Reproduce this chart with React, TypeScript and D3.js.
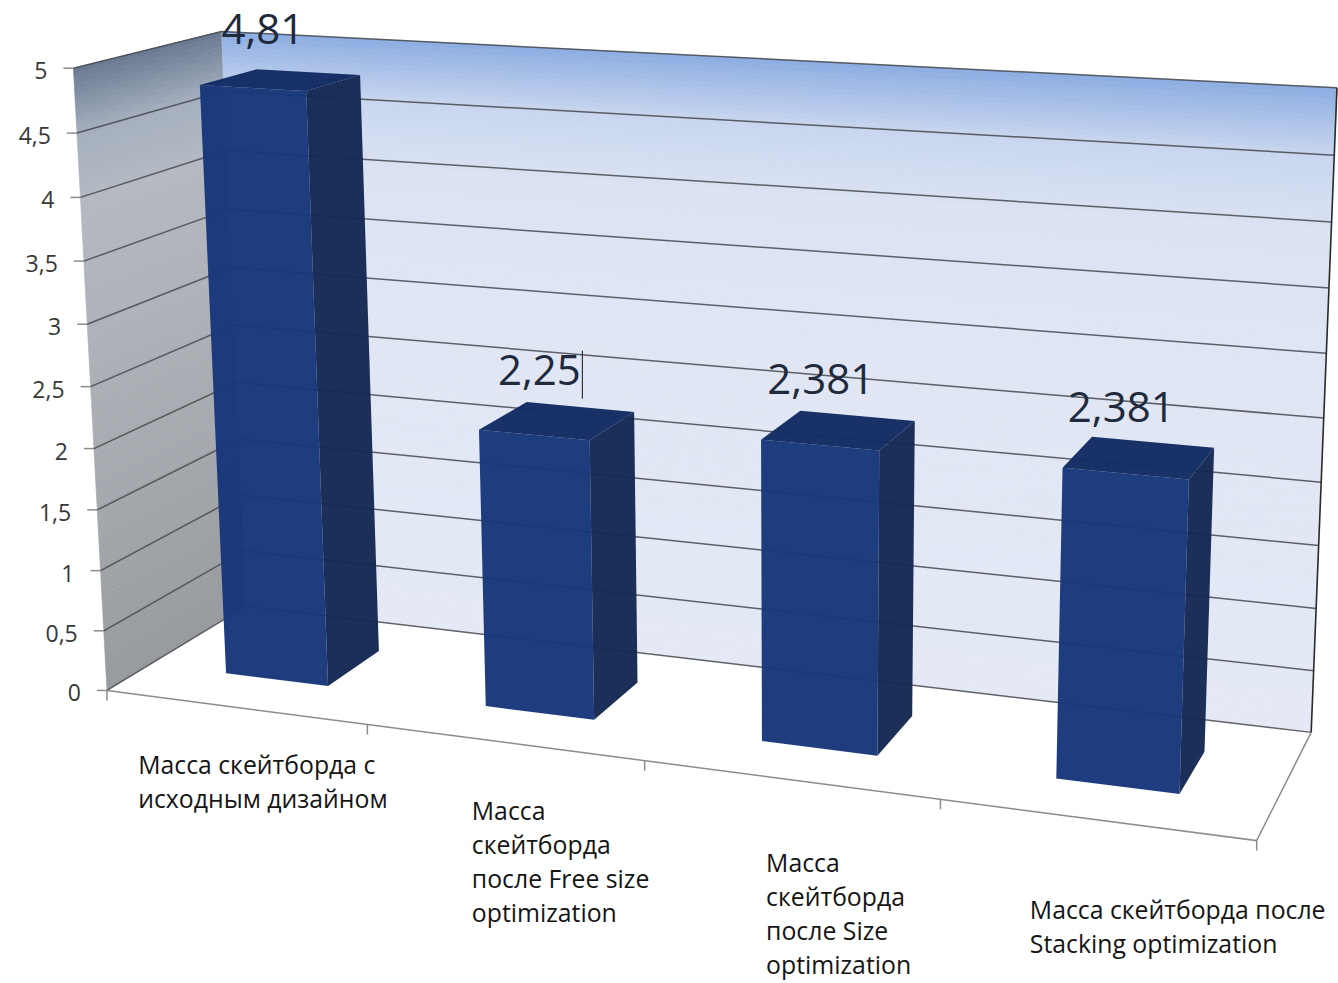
import React from 'react';
import * as d3 from 'd3';

// ---------------- data ----------------
const categoryLines: string[][] = [
  ['Масса скейтборда с', 'исходным дизайном'],
  ['Масса', 'скейтборда', 'после Free size', 'optimization'],
  ['Масса', 'скейтборда', 'после Size', 'optimization'],
  ['Масса скейтборда после', 'Stacking optimization'],
];
const values: number[] = [4.81, 2.25, 2.381, 2.381];
const yTicks: number[] = [0, 0.5, 1, 1.5, 2, 2.5, 3, 3.5, 4, 4.5, 5];
const yTickLabels: string[] = ['0', '0,5', '1', '1,5', '2', '2,5', '3', '3,5', '4', '4,5', '5'];

// ---------------- layout (camera calibration of the 3D box) ----------------
// [X (0..1 across), Y (0..1 value), Z (0 front .. 1 back), screen u, screen v]
const calib: number[][] = [
  [0, 0, 0, 108, 689], [0, 1, 0, 75, 67], [0, 1, 1, 222, 31],
  [1, 0, 1, 1311, 733], [1, 1, 1, 1337, 87], [1, 0, 0, 1257, 840],
  [0.25, 0, 0, 367, 723], [0.5, 0, 0, 646, 762], [0.75, 0, 0, 940, 799],
  [0, 0.9, 0, 78, 133], [0, 0.8, 0, 80, 198], [0, 0.7, 0, 83, 262], [0, 0.6, 0, 86, 325],
  [0, 0.5, 0, 90, 387], [0, 0.4, 0, 93, 448], [0, 0.3, 0, 97, 512], [0, 0.2, 0, 100, 571],
  [0, 0.1, 0, 104, 630],
  [1, 0.9, 1, 1334, 155], [1, 0.8, 1, 1331, 222], [1, 0.7, 1, 1329, 288], [1, 0.6, 1, 1326, 353],
  [1, 0.5, 1, 1324, 418], [1, 0.4, 1, 1321, 483], [1, 0.3, 1, 1319, 547], [1, 0.2, 1, 1316, 608],
  [1, 0.1, 1, 1314, 670],
];
const barDepth: [number, number] = [0.3, 0.7];
const labelOffsets: number[][] = [[-97, 67], [-32, 78], [-24, 92], [-66, 99]];

function fitProjection(pts: number[][]): number[] {
  const n = 11;
  const M: number[][] = Array.from({ length: n }, () => new Array(n).fill(0));
  const r: number[] = new Array(n).fill(0);
  const add = (row: number[], b: number) => {
    for (let i = 0; i < n; i++) {
      r[i] += row[i] * b;
      for (let j = 0; j < n; j++) M[i][j] += row[i] * row[j];
    }
  };
  for (const [X, Y, Z, u0, v0] of pts) {
    const u = u0 / 1000, v = v0 / 1000;
    add([X, Y, Z, 1, 0, 0, 0, 0, -u * X, -u * Y, -u * Z], u);
    add([0, 0, 0, 0, X, Y, Z, 1, -v * X, -v * Y, -v * Z], v);
  }
  for (let c = 0; c < n; c++) {
    let p = c;
    for (let i = c + 1; i < n; i++) if (Math.abs(M[i][c]) > Math.abs(M[p][c])) p = i;
    [M[c], M[p]] = [M[p], M[c]];
    [r[c], r[p]] = [r[p], r[c]];
    for (let i = c + 1; i < n; i++) {
      const f = M[i][c] / M[c][c];
      for (let j = c; j < n; j++) M[i][j] -= f * M[c][j];
      r[i] -= f * r[c];
    }
  }
  const x = new Array(n).fill(0);
  for (let i = n - 1; i >= 0; i--) {
    let s = r[i];
    for (let j = i + 1; j < n; j++) s -= M[i][j] * x[j];
    x[i] = s / M[i][i];
  }
  return x;
}

const P = fitProjection(calib);
const proj = (X: number, Y: number, Z: number): [number, number] => {
  const w = P[8] * X + P[9] * Y + P[10] * Z + 1;
  return [
    ((P[0] * X + P[1] * Y + P[2] * Z + P[3]) / w) * 1000,
    ((P[4] * X + P[5] * Y + P[6] * Z + P[7]) / w) * 1000,
  ];
};
const poly = (pts: [number, number, number][]) =>
  'M' + pts.map((p) => proj(p[0], p[1], p[2]).map((d) => d.toFixed(2)).join(',')).join('L') + 'Z';
const line = (pts: [number, number, number][]) =>
  'M' + pts.map((p) => proj(p[0], p[1], p[2]).map((d) => d.toFixed(2)).join(',')).join('L');

const ruLocale = d3.formatLocale({ decimal: ',', thousands: '\u00a0', grouping: [3], currency: ['', ''] });
const fmt = ruLocale.format('');

export default function App() {
  const x = d3.scaleBand<number>().domain(d3.range(values.length)).range([0, 1]).paddingInner(0.6).paddingOuter(0.3);
  const y = d3.scaleLinear().domain([0, 5]).range([0, 1]);
  const backColor = d3.scaleLinear<string>()
    .domain([0, 0.5, 0.78, 0.9, 1])
    .range(['#e4e9f5', '#e0e6f4', '#dbe3f3', '#c8d6ef', '#8cade1']);
  const sideColor = d3.scaleLinear<string>()
    .domain([0, 0.3, 0.6, 0.8, 0.9, 1])
    .range(['#96999e', '#a4a7ac', '#afb2b8', '#b4b9c2', '#a5afbe', '#687991']);

  const N = 120;
  const strips = d3.range(N).map((k) => [k / N, (k + 1) / N]);
  const step = x.step();
  const gap = (step - x.bandwidth()) / 2;
  const catBounds = d3.range(values.length + 1).map((i) => (i === values.length ? 1 : (x(i) as number) - gap));

  return (
    <svg width={1338} height={983} style={{ position: 'absolute', left: 0, top: 0, display: 'block', background: '#fff' }}
      fontFamily="'Open Sans', 'Noto Sans', sans-serif">
      {/* side wall */}
      {strips.map(([a, b], i) => (
        <path key={'s' + i} d={poly([[0, a, 0], [0, a, 1], [0, b, 1], [0, b, 0]])}
          fill={sideColor((a + b) / 2)} stroke={sideColor((a + b) / 2)} strokeWidth={0.6} />
      ))}
      {/* back wall */}
      {strips.map(([a, b], i) => (
        <path key={'b' + i} d={poly([[0, a, 1], [1, a, 1], [1, b, 1], [0, b, 1]])}
          fill={backColor((a + b) / 2)} stroke={backColor((a + b) / 2)} strokeWidth={0.6} />
      ))}
      {/* floor */}
      <path d={poly([[0, 0, 0], [1, 0, 0], [1, 0, 1], [0, 0, 1]])} fill="#ffffff" />
      {/* gridlines */}
      {yTicks.map((t) => (
        <path key={'g' + t} d={line([[0, y(t), 0], [0, y(t), 1], [1, y(t), 1]])}
          fill="none" stroke="#46484e" strokeWidth={1.5} strokeOpacity={0.85} />
      ))}
      {/* wall/floor edges */}
      <path d={line([[1, 0, 1], [1, 1, 1]])} stroke="#2a2a2a" strokeWidth={1.6} fill="none" />
      <path d={line([[0, 0, 0], [1, 0, 0], [1, 0, 1]])} stroke="#8c8c8c" strokeWidth={1.5} fill="none" />
      {/* category ticks */}
      {catBounds.map((b, i) => {
        const [px, py] = proj(b, 0, 0);
        return <line key={'ct' + i} x1={px} y1={py} x2={px} y2={py + 10} stroke="#8c8c8c" strokeWidth={1.5} />;
      })}
      {/* value axis ticks and labels */}
      {yTicks.map((t, i) => {
        const [px, py] = proj(0, y(t), 0);
        return (
          <g key={'yt' + t}>
            <line x1={px - 10} y1={py} x2={px} y2={py} stroke="#8c8c8c" strokeWidth={1.5} />
            <text x={px - 26} y={py + 2} textAnchor="end" dominantBaseline="central" fontSize={23} fill="#383838">
              {yTickLabels[i]}
            </text>
          </g>
        );
      })}
      {/* bars */}
      {values.map((v, i) => {
        const x0 = x(i) as number;
        const x1 = x0 + x.bandwidth();
        const h = y(v);
        const [z0, z1] = barDepth;
        return (
          <g key={'bar' + i} fillOpacity={0.97}>
            <path d={poly([[x0, 0, z0], [x1, 0, z0], [x1, h, z0], [x0, h, z0]])} fill="#18377a" />
            <path d={poly([[x1, 0, z0], [x1, 0, z1], [x1, h, z1], [x1, h, z0]])} fill="#152853" />
            <path d={poly([[x0, h, z0], [x1, h, z0], [x1, h, z1], [x0, h, z1]])} fill="#122b63" />
          </g>
        );
      })}
      {/* value labels */}
      {values.map((v, i) => {
        const cx = (x(i) as number) + x.bandwidth() / 2;
        const [px, py] = proj(cx, y(v), (barDepth[0] + barDepth[1]) / 2);
        return (
          <g key={'vl' + i}>
            <text x={px - 18} y={py - 36} textAnchor="middle" fontSize={42} fill="#1f2a3c">
              {fmt(v)}
            </text>
            {i === 1 && (
              <line x1={px - 18 + 43} y1={py - 70} x2={px - 18 + 43} y2={py - 22} stroke="#333" strokeWidth={1.2} />
            )}
          </g>
        );
      })}
      {/* category labels */}
      {categoryLines.map((lines, i) => {
        const cx = (x(i) as number) + x.bandwidth() / 2;
        const [px, py] = proj(cx, 0, 0);
        const [ox, oy] = labelOffsets[i];
        return (
          <text key={'cl' + i} x={px + ox} y={py + oy} fontSize={24.8} fill="#151515">
            {lines.map((l, j) => (
              <tspan key={j} x={px + ox} dy={j === 0 ? 0 : 34}>{l}</tspan>
            ))}
          </text>
        );
      })}
    </svg>
  );
}
